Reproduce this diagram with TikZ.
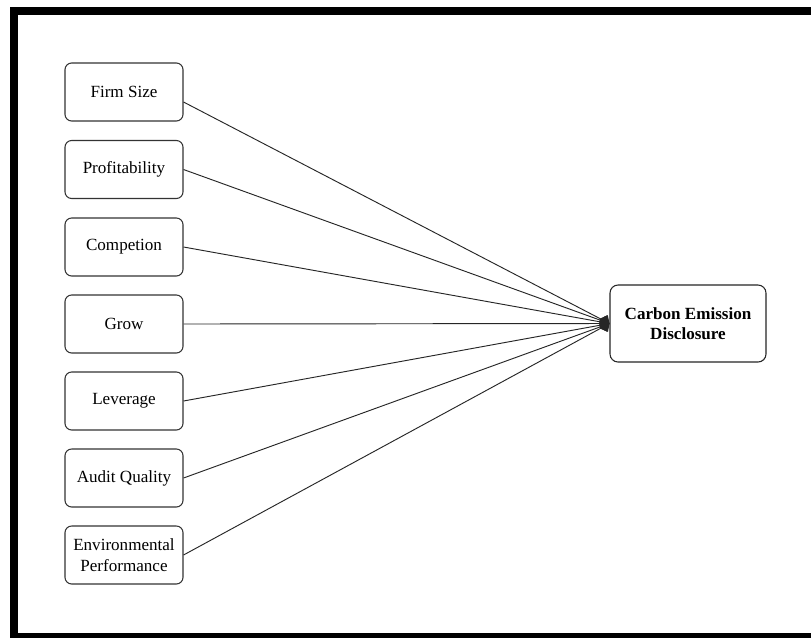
\documentclass[tikz,border=0pt]{standalone}
\usepackage{fontspec}
\setmainfont{Liberation Serif}
\usetikzlibrary{arrows.meta}
\begin{document}
\begin{tikzpicture}[x=0.75pt,y=-0.75pt,
  inbox/.style={draw=black!80, line width=0.8pt, rounded corners=5pt, fill=white,
    minimum width=88.5pt, minimum height=43.5pt, align=center, inner sep=1pt,
    font=\fontsize{12.8}{16}\selectfont},
  outbox/.style={draw=black!85, line width=0.8pt, rounded corners=6pt, fill=white,
    minimum width=117pt, minimum height=57.75pt, align=center, inner sep=1pt,
    font=\fontsize{12.8}{15}\selectfont\bfseries},
  link/.style={draw=black!85, line width=0.7pt, -{Diamond[length=8pt,width=10pt]}}]
\useasboundingbox (0,0) rectangle (811,637);
\begin{scope}
\clip (0,0) rectangle (811,637);
\fill[white] (0,0) rectangle (811,637);
\draw[line width=6pt] (13.5,11) rectangle (818,637);
\end{scope}
\node[inbox] (a1) at (124,92) {Firm Size};
\node[inbox] (a2) at (124,169.5) {Profitability};
\node[inbox] (a3) at (124,247) {Competion};
\node[inbox] (a4) at (124,324) {Grow};
\node[inbox] (a5) at (124,401) {Leverage};
\node[inbox] (a6) at (124,478) {Audit Quality};
\node[inbox] (a7) at (124,555) {Environmental\\Performance};
\node[outbox] (t) at (688,323.5) {Carbon Emission\\Disclosure};
\draw[link] ([yshift=-7.5pt]a1.east) -- (t.west);
\foreach \i in {2,...,7} {\draw[link] (a\i.east) -- (t.west);}
\end{tikzpicture}
\end{document}
